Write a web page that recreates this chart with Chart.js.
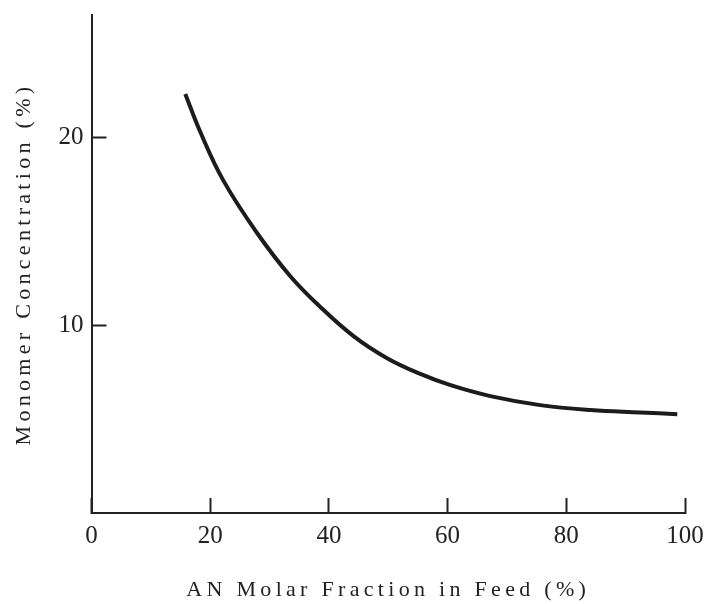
<!DOCTYPE html>
<html>
<head>
<meta charset="utf-8">
<script src="https://cdn.jsdelivr.net/npm/chart.js@4"></script>
<style>
  html, body { margin: 0; padding: 0; background: #ffffff; }
  #wrap { width: 704px; height: 604px; }
</style>
</head>
<body>
<div id="wrap"><canvas id="c" width="704" height="604"></canvas></div>
<script>
// ---- data ----
const anFraction  = [15.8, 18.3, 22.2, 27.9, 33.5, 38.6, 44.2, 49.8, 55.4, 60.5, 67.2, 75.6, 84.1, 92.5, 98.7];
const monomerConc = [22.3, 20.3, 17.7, 14.9, 12.6, 10.95, 9.4, 8.24, 7.4, 6.8, 6.22, 5.74, 5.48, 5.35, 5.26];
const xTicks = [0, 20, 40, 60, 80, 100];
const yTicks = [10, 20];
const xTitle = 'AN Molar Fraction in Feed (%)';
const yTitle = 'Monomer Concentration (%)';

const ink = '#222222';
const serif = "'Liberation Serif', 'Times New Roman', serif";
const titleSpacing = '4.3px';

// letter-spaced axis titles
const spacedTitles = {
  id: 'spacedTitles',
  beforeDraw(chart) {
    Object.values(chart.scales).forEach(s => {
      if (s._spacedPatched) return;
      const orig = s.drawTitle;
      s.drawTitle = function () {
        const ctx = this.ctx;
        const prev = ctx.letterSpacing;
        ctx.letterSpacing = titleSpacing;
        orig.apply(this, arguments);
        ctx.letterSpacing = prev;
      };
      s._spacedPatched = true;
    });
  }
};

const points = anFraction.map((x, i) => ({ x: x, y: monomerConc[i] }));

new Chart(document.getElementById('c'), {
  type: 'line',
  data: {
    datasets: [{
      data: points,
      borderColor: '#1c1c1c',
      borderWidth: 4,
      pointRadius: 0,
      tension: 0.4,
      fill: false
    }]
  },
  options: {
    responsive: false,
    animation: false,
    events: [],
    layout: { padding: { top: 15, right: 19, bottom: 0, left: 0 } },
    plugins: { legend: { display: false }, tooltip: { enabled: false } },
    scales: {
      x: {
        type: 'linear',
        position: 'bottom',
        min: 0, max: 100,
        afterBuildTicks: s => { s.ticks = xTicks.map(v => ({ value: v })); },
        afterFit: s => { s.height = 91; s.paddingLeft = 0; s.paddingRight = 0; },
        grid: { drawOnChartArea: false, drawTicks: true, tickLength: -15, tickColor: ink, tickWidth: 2 },
        border: { display: true, color: ink, width: 2 },
        ticks: { color: ink, font: { family: serif, size: 25 }, padding: 23, maxRotation: 0, autoSkip: false },
        title: { display: true, text: xTitle, color: ink, font: { family: serif, size: 22 }, padding: { top: 0, bottom: 1 } }
      },
      y: {
        type: 'linear',
        position: 'left',
        min: 0, max: 26.5,
        afterBuildTicks: s => { s.ticks = yTicks.map(v => ({ value: v })); },
        afterFit: s => { s.width = 91.5; s.paddingTop = 0; s.paddingBottom = 0; },
        grid: { drawOnChartArea: false, drawTicks: true, tickLength: -15, tickColor: ink, tickWidth: 2 },
        border: { display: true, color: ink, width: 2 },
        ticks: { color: ink, font: { family: serif, size: 25 }, padding: 23, autoSkip: false },
        title: { display: true, text: yTitle, color: ink, font: { family: serif, size: 22 }, padding: { top: 11, bottom: 0 } }
      }
    }
  },
  plugins: [spacedTitles]
});
</script>
</body>
</html>
